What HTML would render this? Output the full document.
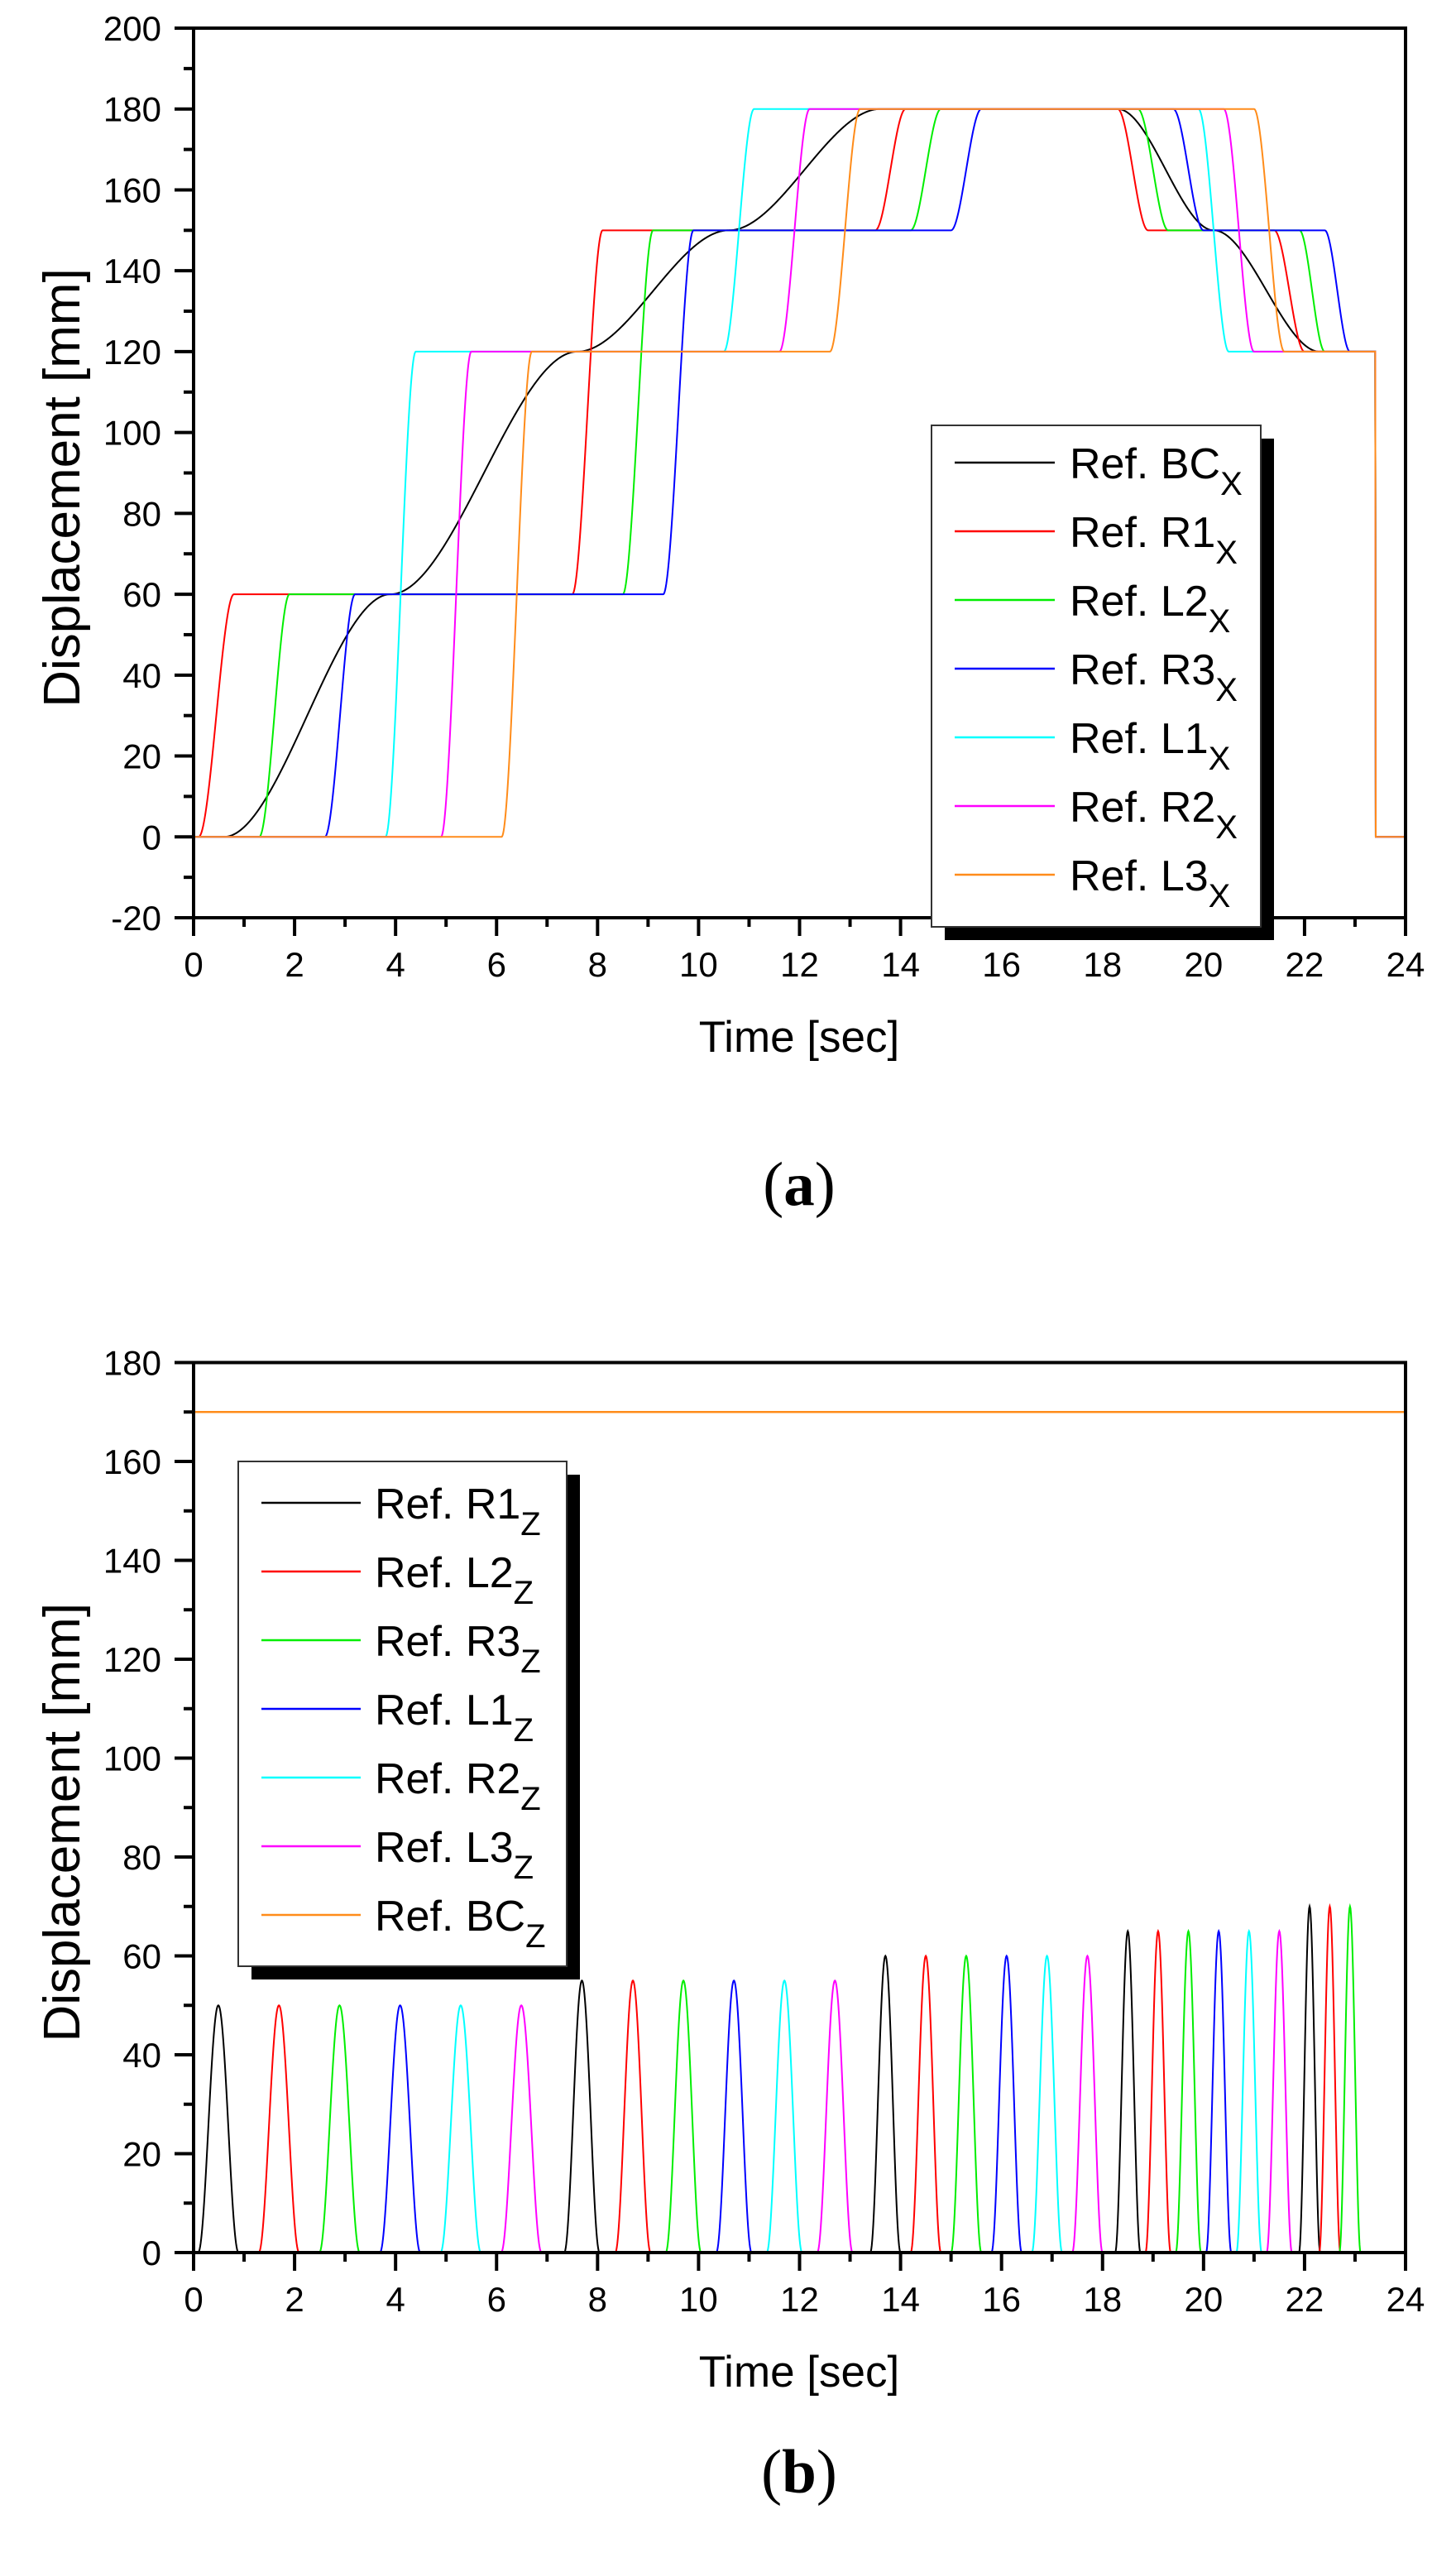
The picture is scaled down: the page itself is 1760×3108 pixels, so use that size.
<!DOCTYPE html>
<html><head><meta charset="utf-8"><style>
html,body{margin:0;padding:0;background:#fff}
svg{display:block}
text{font-family:"Liberation Sans",Arial,sans-serif;fill:#000}
</style></head><body>
<svg id="fig" width="1760" height="3108" viewBox="0 0 1760 3108" xmlns="http://www.w3.org/2000/svg">
<g id="chartA"></g>
<g id="chartB"></g>
<text x="966" y="1456" text-anchor="middle" style="font-family:'Liberation Serif',serif;font-size:75px">(<tspan font-weight="bold">a</tspan>)</text>
<text x="966" y="3012" text-anchor="middle" style="font-family:'Liberation Serif',serif;font-size:75px">(<tspan font-weight="bold">b</tspan>)</text>
</svg>
<script>
// ---- Chart A data (x displacement) ----
const aNames = ["BC","R1","L2","R3","L1","R2","L3"];
const aColors = ["#000000","#ff0000","#00ee00","#0000ff","#00ffff","#ff00ff","#ff8c1a"];
// transitions: [tStart, tEnd, newValue]
const aBC = [[0.6,3.9,60],[3.9,7.6,120],[7.6,10.6,150],[10.6,13.6,180],[18.3,20.2,150],[20.2,22.3,120],[23.4,23.41,0]];
const aR1 = [[0.1,0.8,60],[7.5,8.1,150],[13.5,14.1,180],[18.3,18.9,150],[21.4,22.0,120],[23.4,23.41,0]];
const aL2 = [[1.3,1.9,60],[8.5,9.1,150],[14.2,14.8,180],[18.7,19.3,150],[21.9,22.4,120],[23.4,23.41,0]];
const aR3 = [[2.6,3.2,60],[9.3,9.9,150],[15.0,15.6,180],[19.4,20.0,150],[22.4,22.9,120],[23.4,23.41,0]];
const aL1 = [[3.8,4.4,120],[10.5,11.1,180],[19.9,20.5,120],[23.4,23.41,0]];
const aR2 = [[4.9,5.5,120],[11.6,12.2,180],[20.4,21.0,120],[23.4,23.41,0]];
const aL3 = [[6.1,6.7,120],[12.6,13.2,180],[21.0,21.6,120],[23.4,23.41,0]];
const aSeries = [aBC,aR1,aL2,aR3,aL1,aR2,aL3];
const aYTicks = [-20,0,20,40,60,80,100,120,140,160,180,200];
const xTicks = [0,2,4,6,8,10,12,14,16,18,20,22,24];

// ---- Chart B data (z displacement) ----
const bNames = ["R1","L2","R3","L1","R2","L3","BC"];
const bColors = ["#000000","#ff0000","#00ee00","#0000ff","#00ffff","#ff00ff","#ff8c1a"];
const bR1Peaks = [0.49,7.69,13.7,18.5,22.1];
const bL2Peaks = [1.69,8.7,14.5,19.1,22.5];
const bR3Peaks = [2.89,9.7,15.3,19.7,22.9];
const bL1Peaks = [4.09,10.7,16.1,20.3];
const bR2Peaks = [5.29,11.7,16.9,20.9];
const bL3Peaks = [6.49,12.7,17.7,21.5];
const bHeights = [50,55,60,65,70];
const bDurations = [0.8,0.7,0.6,0.5,0.42];
const bBCLevel = 170;
const bPeaks = [bR1Peaks,bL2Peaks,bR3Peaks,bL1Peaks,bR2Peaks,bL3Peaks];
const bYTicks = [0,20,40,60,80,100,120,140,160,180];

const NS="http://www.w3.org/2000/svg";
function mk(tag,attrs,parent){const e=document.createElementNS(NS,tag);for(const k in attrs)e.setAttribute(k,attrs[k]);parent.appendChild(e);return e;}

const X0=234,X1=1699;
const xs=t=>X0+(t/24)*(X1-X0);

function axes(g,ys,yMin,yMax,yTicks,yTop,yBot){
  for(let v=yMin;v<=yMax;v+=10){
    const major=(v%20===0);
    const t=mk('line',{x1:X0-(major?23:12),x2:X0,y1:ys(v),y2:ys(v),stroke:'#000','stroke-width':4},g);
    
    
  }
  yTicks.forEach(v=>{
    const l=mk('text',{x:195,y:ys(v)+15,'text-anchor':'end','font-size':42},g);
    l.textContent=v;
    
    
  });
  for(let t=0;t<=24;t+=1){
    const major=(t%2===0);
    const tk=mk('line',{x1:xs(t),x2:xs(t),y1:yBot,y2:yBot+(major?22:11),stroke:'#000','stroke-width':4},g);
    
    
  }
  xTicks.forEach(t=>{
    const l=mk('text',{x:xs(t),y:yBot+71,'text-anchor':'middle','font-size':42},g);
    l.textContent=t;
    
    
  });
  const box=mk('rect',{x:X0,y:yTop,width:X1-X0,height:yBot-yTop,fill:'none',stroke:'#000','stroke-width':4},g);
  
  
  const xt=mk('text',{x:966,y:yBot+162,'text-anchor':'middle','font-size':53},g);
  xt.textContent='Time [sec]';
  
  
  const cy=(yTop+yBot)/2+18;
  const yt=mk('text',{x:96,y:cy,'text-anchor':'middle','font-size':62,transform:`rotate(-90 96 ${cy})`},g);
  yt.textContent='Displacement [mm]';
  
  
}

function legend(g,names,colors,sub,bx,by,bw,bh,lineX1,lineX2,textX,firstY,step){
  const sh=mk('rect',{x:bx+16,y:by+16,width:bw,height:bh,fill:'#000'},g);
  
  
  const bg=mk('rect',{x:bx,y:by,width:bw,height:bh,fill:'#fff',stroke:'#333','stroke-width':2},g);
  
  
  names.forEach((n,i)=>{
    const y=firstY+i*step;
    const ln=mk('line',{x1:lineX1,x2:lineX2,y1:y,y2:y,stroke:colors[i],'stroke-width':2.5},g);
    
    
    const tx=mk('text',{x:textX,y:y+19,'font-size':52},g);
    
    
    tx.appendChild(document.createTextNode('Ref. '+n));
    const s=mk('tspan',{'font-size':40,dy:20},tx);
    s.textContent=sub;
  });
}

// ---- Chart A ----
(function(){
  const g=document.getElementById('chartA');
  const yTop=34,yBot=1109,yMin=-20,yMax=200;
  const ys=v=>yBot-(v-yMin)/(yMax-yMin)*(yBot-yTop);
  const clip=mk('clipPath',{id:'clipA'},g);
  mk('rect',{x:X0,y:yTop,width:X1-X0,height:yBot-yTop},clip);
  const sg=mk('g',{'clip-path':'url(#clipA)'},g);
  
  
  aSeries.forEach((trs,si)=>{
    let d='';
    for(let t=0;t<=24.0001;t+=0.01){
      let v=0;
      for(const [t0,t1,nv] of trs){
        if(t>=t1){v=nv;}
        else if(t>t0){const u=(t-t0)/(t1-t0);const s=u*u*(3-2*u);v=v+(nv-v)*s;break;}
        else break;
      }
      d+=(d?'L':'M')+xs(t).toFixed(2)+' '+ys(v).toFixed(2);
    }
    const p=mk('path',{d:d,fill:'none',stroke:aColors[si],'stroke-width':2},sg);
    
    
  });
  axes(g,ys,yMin,yMax,aYTicks,yTop,yBot);
  legend(g,aNames,aColors,'X',1126,514,398,606,1154,1275,1293,559,83);
})();

// ---- Chart B ----
(function(){
  const g=document.getElementById('chartB');
  const yTop=1646.5,yBot=2722,yMin=0,yMax=180;
  const ys=v=>yBot-(v-yMin)/(yMax-yMin)*(yBot-yTop);
  const sg=mk('g',{},g);
  
  
  bPeaks.forEach((peaks,si)=>{
    let d='';
    for(let t=0;t<=24.0001;t+=0.01){
      let v=0;
      peaks.forEach((pk,k)=>{
        const w=bDurations[k]/2;
        if(Math.abs(t-pk)<w){v=bHeights[k]*(1+Math.cos(Math.PI*(t-pk)/w))/2;}
      });
      d+=(d?'L':'M')+xs(t).toFixed(2)+' '+ys(v).toFixed(2);
    }
    const p=mk('path',{d:d,fill:'none',stroke:bColors[si],'stroke-width':2},sg);
    
    
  });
  const bc=mk('line',{x1:xs(0),x2:xs(24),y1:ys(bBCLevel),y2:ys(bBCLevel),stroke:bColors[6],'stroke-width':2.5},sg);
  
  
  axes(g,ys,yMin,yMax,bYTicks,yTop,yBot);
  legend(g,bNames,bColors,'Z',288,1766,397,610,316,436,453,1816,83);
})();
</script>
</body></html>
